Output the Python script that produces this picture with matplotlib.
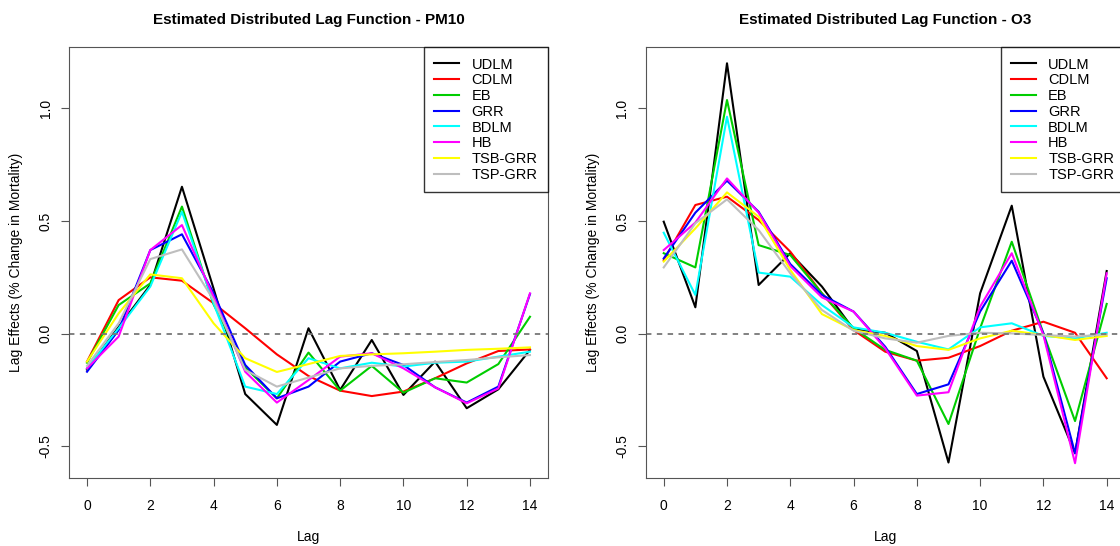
import numpy as np
import matplotlib.pyplot as plt

plt.rcParams['font.family'] = ['Liberation Sans', 'DejaVu Sans']

lags = np.arange(15)
methods = ['UDLM', 'CDLM', 'EB', 'GRR', 'BDLM', 'HB', 'TSB-GRR', 'TSP-GRR']
colors = ['black', 'red', '#00cd00', 'blue', 'cyan', 'magenta', 'yellow', '#bebebe']

# PM10 lag effects
pm10_udlm = [-0.16, 0.03, 0.216, 0.652, 0.2, -0.268, -0.405, 0.024, -0.25, -0.028, -0.272, -0.124, -0.331, -0.247, -0.072]
pm10_cdlm = [-0.124, 0.149, 0.25, 0.235, 0.135, 0.024, -0.092, -0.188, -0.253, -0.277, -0.257, -0.198, -0.132, -0.077, -0.07]
pm10_eb = [-0.129, 0.127, 0.223, 0.564, 0.13, -0.15, -0.287, -0.084, -0.253, -0.143, -0.262, -0.198, -0.217, -0.135, 0.075]
pm10_grr = [-0.169, 0.016, 0.371, 0.441, 0.18, -0.139, -0.287, -0.235, -0.124, -0.087, -0.139, -0.238, -0.306, -0.235, 0.176]
pm10_bdlm = [-0.154, 0.024, 0.209, 0.541, 0.135, -0.235, -0.268, -0.109, -0.154, -0.129, -0.146, -0.129, -0.124, -0.102, -0.08]
pm10_hb = [-0.154, -0.013, 0.371, 0.482, 0.164, -0.169, -0.306, -0.206, -0.102, -0.087, -0.154, -0.238, -0.309, -0.243, 0.179]
pm10_tsb = [-0.124, 0.09, 0.263, 0.246, 0.046, -0.109, -0.17, -0.135, -0.099, -0.092, -0.087, -0.08, -0.072, -0.067, -0.061]
pm10_tsp = [-0.143, 0.046, 0.331, 0.374, 0.149, -0.161, -0.235, -0.195, -0.154, -0.143, -0.136, -0.126, -0.117, -0.105, -0.095]

# O3 lag effects
o3_udlm = [0.497, 0.117, 1.2, 0.216, 0.357, 0.209, 0.019, 0.004, -0.077, -0.572, 0.179, 0.568, -0.191, -0.531, 0.278]
o3_cdlm = [0.327, 0.571, 0.608, 0.504, 0.364, 0.179, 0.016, -0.08, -0.12, -0.107, -0.055, 0.013, 0.053, 0.004, -0.198]
o3_eb = [0.357, 0.294, 1.037, 0.393, 0.349, 0.179, 0.024, -0.072, -0.12, -0.401, 0.024, 0.408, 0.001, -0.388, 0.132]
o3_grr = [0.334, 0.537, 0.679, 0.541, 0.309, 0.172, 0.098, -0.058, -0.268, -0.225, 0.098, 0.324, 0.001, -0.531, 0.246]
o3_bdlm = [0.448, 0.172, 0.963, 0.271, 0.253, 0.127, 0.028, 0.004, -0.036, -0.07, 0.028, 0.046, -0.01, -0.021, 0.004]
o3_hb = [0.371, 0.493, 0.689, 0.537, 0.3, 0.161, 0.098, -0.065, -0.275, -0.26, 0.12, 0.357, -0.006, -0.575, 0.268]
o3_tsb = [0.32, 0.467, 0.627, 0.519, 0.283, 0.087, 0.016, -0.01, -0.055, -0.072, -0.021, 0.013, -0.006, -0.028, -0.01]
o3_tsp = [0.294, 0.49, 0.596, 0.46, 0.268, 0.105, 0.013, -0.021, -0.04, -0.01, 0.004, 0.001, -0.006, -0.013, -0.003]

pm10 = [pm10_udlm, pm10_cdlm, pm10_eb, pm10_grr, pm10_bdlm, pm10_hb, pm10_tsb, pm10_tsp]
o3 = [o3_udlm, o3_cdlm, o3_eb, o3_grr, o3_bdlm, o3_hb, o3_tsb, o3_tsp]

fig = plt.figure(figsize=(11.2, 5.46), dpi=100)
ax1 = fig.add_axes([69.3 / 1120, 67.7 / 546, 478.4 / 1120, 431 / 546])
ax2 = fig.add_axes([646 / 1120, 67.7 / 546, 478.4 / 1120, 431 / 546])

for ax, series, name in [(ax1, pm10, 'PM10'), (ax2, o3, 'O3')]:
    for vals, col, lab in zip(series, colors, methods):
        ax.plot(lags, vals, color=col, lw=1.5, label=lab)
    ax.axhline(0, color='#777777', ls=(0, (3, 3)), lw=1.3)
    ax.set_xlim(-0.56, 14.56)
    ax.set_ylim(-0.642, 1.271)
    ax.set_xticks(range(0, 15, 2))
    ax.set_yticks([-0.5, 0.0, 0.5, 1.0])
    ax.set_yticklabels(['-0.5', '0.0', '0.5', '1.0'], rotation=90, va='center')
    ax.tick_params(labelsize=10, length=6, color='#555555', pad=6)
    ax.tick_params(axis='x', pad=9)
    for sp in ax.spines.values():
        sp.set_color('#555555')
    ax.set_title(f'Estimated Distributed Lag Function - {name}', fontsize=11,
                 fontweight='bold', pad=17)
    ax.set_xlabel('Lag', fontsize=10, labelpad=12)
    ax.set_ylabel('Lag Effects (% Change in Mortality)', fontsize=10, labelpad=11)
    leg = ax.legend(loc='upper right', fontsize=10.5, frameon=True, fancybox=False,
                    borderaxespad=0, handlelength=1.7, labelspacing=0.12,
                    borderpad=0.7, handletextpad=0.85)
    leg.get_frame().set_edgecolor('black')
    leg.get_frame().set_linewidth(1.0)

fig.savefig('out.png', dpi=100)
